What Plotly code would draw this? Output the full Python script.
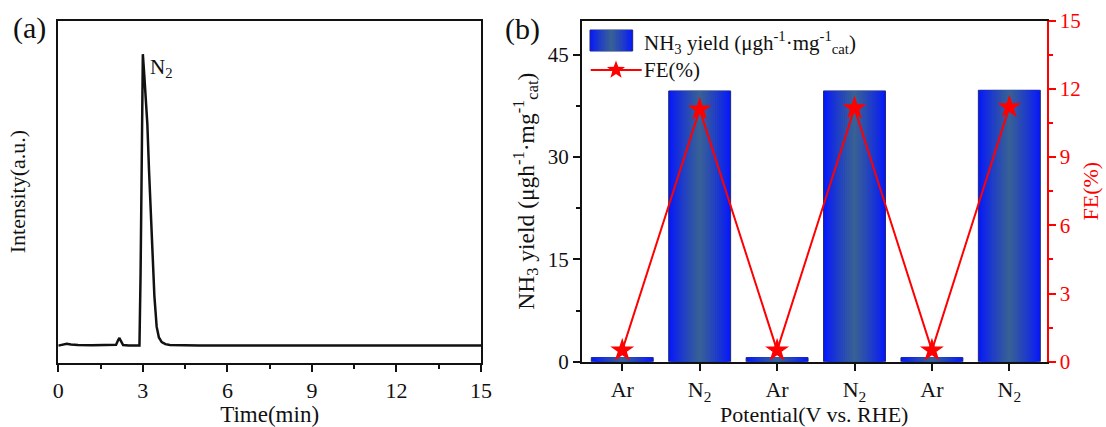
import math
import plotly.graph_objects as go

# ---------------- data ----------------
# (a) gas chromatogram
time_min = [0, 0.15, 0.3, 0.45, 0.7, 1.2, 1.8, 2.05, 2.12, 2.17, 2.22, 2.3, 2.5,
            2.88, 2.92, 2.96, 3.0, 3.05, 3.1, 3.16, 3.22, 3.29, 3.35, 3.41, 3.49,
            3.57, 3.67, 3.8, 3.96, 4.3, 5.0, 15]
intensity = [0, 0.4, 0.6, 0.4, 0.2, 0.1, 0.1, 0.3, 1.8, 2.6, 1.6, 0.2, 0,
             0, 25, 55, 100, 93, 86, 76, 60, 42, 28, 17, 6.5,
             2.8, 1.2, 0.5, 0.2, 0.05, 0, 0]
time_ticks = [0, 3, 6, 9, 12, 15]

# (b) NH3 yield and FE
categories = ["Ar", "N<sub>2</sub>", "Ar", "N<sub>2</sub>", "Ar", "N<sub>2</sub>"]
nh3_yield = [0.6, 39.7, 0.6, 39.7, 0.6, 39.8]
fe_percent = [0.5, 11.1, 0.5, 11.15, 0.5, 11.2]
yield_ticks = [0, 15, 30, 45]
fe_ticks = [0, 3, 6, 9, 12, 15]

# ---------------- layout helpers ----------------
W, H = 1106, 427


def px(x):
    return x / W


def py(y):
    return 1 - y / H


FONT = "Liberation Serif"
BLACK = "#111111"
RED = "#ff0000"
EDGE = (6, 24, 252)
CENTER = (55, 96, 150)
N_LAYERS = 16
BAR_W = 0.8


def mix(t):
    c = [round(EDGE[i] + (CENTER[i] - EDGE[i]) * t) for i in range(3)]
    return "rgb(%d,%d,%d)" % tuple(c)


idx = list(range(len(categories)))

fig = go.Figure()

# (a) chromatogram
fig.add_trace(go.Scatter(x=time_min, y=intensity, mode="lines",
                         line=dict(color=BLACK, width=2.5),
                         xaxis="x", yaxis="y", showlegend=False, hoverinfo="skip"))

# (b) gradient bars as overlaid layers
for k in range(N_LAYERS):
    t = (k / (N_LAYERS - 1)) ** 0.85
    fig.add_trace(go.Bar(
        x=idx, y=nh3_yield, width=BAR_W * (1 - k / N_LAYERS),
        marker=dict(color=mix(t),
                    line=dict(color="#1e2a70", width=1 if k == 0 else 0)),
        xaxis="x2", yaxis="y2", showlegend=False, hoverinfo="skip",
        name="NH3 yield"))

fig.add_trace(go.Scatter(
    x=idx, y=fe_percent, mode="lines+markers",
    line=dict(color=RED, width=2),
    marker=dict(symbol="star", size=18, color=RED, line=dict(width=0)),
    xaxis="x2", yaxis="y3", showlegend=False, name="FE(%)", hoverinfo="skip"))

axis_common = dict(showline=True, linewidth=2, linecolor=BLACK, showgrid=False,
                   zeroline=False, ticks="outside", tickwidth=2, tickcolor=BLACK,
                   automargin=False)

fig.update_layout(
    width=W, height=H,
    margin=dict(l=0, r=0, t=0, b=0, pad=0, autoexpand=False),
    paper_bgcolor="white", plot_bgcolor="white",
    font=dict(family=FONT, color=BLACK, size=21),
    barmode="overlay",
    showlegend=False,
    xaxis=dict(axis_common, domain=[px(58.3), px(481)], range=[0, 15],
               tickvals=time_ticks, ticklen=7, mirror=True,
               minor=dict(dtick=1.5, tick0=0, ticklen=4, ticks="outside", tickwidth=2, tickcolor=BLACK),
               tickfont=dict(size=22), anchor="y",
               title=dict(text="Time(min)", font=dict(size=23), standoff=2)),
    yaxis=dict(axis_common, domain=[py(362.5), py(20.7)], range=[-5.8, 111.5],
               ticks="", showticklabels=False, mirror=True, anchor="x",
               title=dict(text="Intensity(a.u.)", font=dict(size=22), standoff=25)),
    xaxis2=dict(axis_common, domain=[px(582), px(1046.5)], range=[-0.52, 5.48],
                tickvals=idx, ticktext=categories, ticklen=7, mirror=True,
                tickfont=dict(size=22), anchor="y2",
                title=dict(text="Potential(V vs. RHE)", font=dict(size=22), standoff=2)),
    yaxis2=dict(axis_common, domain=[py(361.7), py(20.7)], range=[0, 50],
                tickvals=yield_ticks, ticklen=7, anchor="x2",
                minor=dict(dtick=7.5, tick0=0, ticklen=4, ticks="outside", tickwidth=2, tickcolor=BLACK),
                tickfont=dict(size=21),
                title=dict(text="NH<sub>3</sub> yield (μgh<sup>-1</sup>·mg<sup>-1</sup><sub>cat</sub>)",
                           font=dict(size=23.5), standoff=7)),
    yaxis3=dict(axis_common, overlaying="y2", side="right", anchor="x2",
                range=[0, 15], tickvals=fe_ticks, ticklen=7,
                linecolor=RED, tickcolor=RED,
                minor=dict(dtick=1.5, tick0=0, ticklen=4, ticks="outside", tickwidth=2, tickcolor=RED),
                tickfont=dict(size=21, color=RED),
                title=dict(text="FE(%)", font=dict(size=22, color=RED), standoff=3)),
)

# panel labels and peak label
fig.add_annotation(text="(a)", x=px(29), y=py(28), xref="paper", yref="paper",
                   showarrow=False, font=dict(size=30), xanchor="center", yanchor="middle")
fig.add_annotation(text="(b)", x=px(522), y=py(29), xref="paper", yref="paper",
                   showarrow=False, font=dict(size=30), xanchor="center", yanchor="middle")
fig.add_annotation(text="N<sub>2</sub>", x=px(148), y=py(68), xref="paper", yref="paper",
                   showarrow=False, font=dict(size=21), xanchor="left", yanchor="middle")

# manual legend: gradient swatch
sx0, sx1, sy0, sy1 = 590, 632.7, 30, 51
for k in range(N_LAYERS):
    t = (k / (N_LAYERS - 1)) ** 0.85
    half = (sx1 - sx0) / 2 * (1 - k / N_LAYERS)
    cx = (sx0 + sx1) / 2
    fig.add_shape(type="rect", xref="paper", yref="paper",
                  x0=px(cx - half), x1=px(cx + half), y0=py(sy1), y1=py(sy0),
                  fillcolor=mix(t),
                  line=dict(color="#1e2a70", width=1 if k == 0 else 0), layer="above")
fig.add_annotation(text="NH<sub>3</sub> yield (μgh<sup>-1</sup>·mg<sup>-1</sup><sub>cat</sub>)",
                   x=px(642), y=py(42), xref="paper", yref="paper", showarrow=False,
                   font=dict(size=21), xanchor="left", yanchor="middle")

# legend line + star
fig.add_shape(type="line", xref="paper", yref="paper", x0=px(590.7), x1=px(641.7),
              y0=py(70), y1=py(70), line=dict(color=RED, width=2), layer="above")
ro, ri = 9.5, 3.9
pts = []
for i in range(10):
    r = ro if i % 2 == 0 else ri
    a = math.pi / 2 + i * math.pi / 5
    pts.append((r * math.cos(a), r * math.sin(a)))
path = "M" + " L".join("%.2f,%.2f" % p for p in pts) + " Z"
fig.add_shape(type="path", xref="paper", yref="paper", xsizemode="pixel", ysizemode="pixel",
              xanchor=px(616), yanchor=py(70), path=path, fillcolor=RED,
              line=dict(color=RED, width=0), layer="above")
fig.add_annotation(text="FE(%)", x=px(642), y=py(70), xref="paper", yref="paper",
                   showarrow=False, font=dict(size=21), xanchor="left", yanchor="middle")

fig.write_html("out.html")
